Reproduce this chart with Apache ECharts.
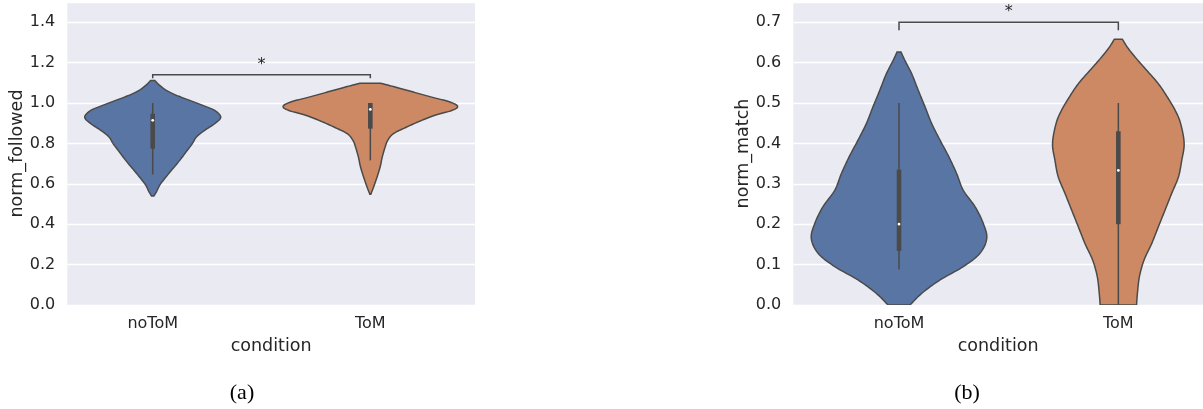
<!DOCTYPE html>
<html>
<head>
<meta charset="utf-8">
<script src="https://cdn.jsdelivr.net/npm/echarts@6/dist/echarts.min.js"></script>
<style>
  html, body { margin: 0; padding: 0; background: #ffffff; }
  #chart { width: 1203px; height: 409px; }
</style>
</head>
<body>
<div id="chart"></div>
<script>
// ---- data ----
const categories = ['noToM', 'ToM'];

// violin outlines: [value, half-width in category units], top to bottom
const followedNoToMProfile = [
  [1.112, 0.009], [1.087, 0.032], [1.062, 0.063], [1.038, 0.109], [1.013, 0.170],
  [0.988, 0.230], [0.963, 0.285], [0.930, 0.3125], [0.898, 0.285], [0.865, 0.239],
  [0.832, 0.201], [0.799, 0.182], [0.766, 0.159], [0.716, 0.124], [0.667, 0.086],
  [0.626, 0.055], [0.593, 0.032], [0.560, 0.017], [0.539, 0.005]
];
const followedToMProfile = [
  [1.098, 0.048], [1.079, 0.114], [1.054, 0.198], [1.029, 0.282], [1.005, 0.366],
  [0.983, 0.401], [0.963, 0.374], [0.939, 0.297], [0.914, 0.236], [0.881, 0.167],
  [0.848, 0.106], [0.815, 0.080], [0.782, 0.068], [0.733, 0.055], [0.683, 0.045],
  [0.634, 0.031], [0.584, 0.015], [0.548, 0.002]
];
const matchNoToMProfile = [
  [0.626, 0.009], [0.605, 0.027], [0.572, 0.058], [0.531, 0.088], [0.490, 0.119],
  [0.449, 0.149], [0.408, 0.187], [0.366, 0.228], [0.325, 0.263], [0.284, 0.293],
  [0.243, 0.347], [0.202, 0.384], [0.165, 0.400], [0.128, 0.369], [0.095, 0.293],
  [0.062, 0.187], [0.029, 0.104], [0.000, 0.050]
];
const matchToMProfile = [
  [0.658, 0.018], [0.638, 0.041], [0.614, 0.076], [0.581, 0.129], [0.548, 0.182],
  [0.515, 0.223], [0.482, 0.259], [0.449, 0.284], [0.400, 0.300], [0.358, 0.289],
  [0.317, 0.274], [0.276, 0.243], [0.235, 0.213], [0.193, 0.182], [0.152, 0.152],
  [0.111, 0.117], [0.070, 0.096], [0.029, 0.087], [0.000, 0.083]
];

// inner box: [whisker low, q1, median, q3, whisker high]
const followedBoxStats = [
  [0.646, 0.774, 0.914, 0.947, 1.000],
  [0.716, 0.873, 0.968, 1.000, 1.000]
];
const matchBoxStats = [
  [0.088, 0.134, 0.200, 0.335, 0.500],
  [0.000, 0.200, 0.333, 0.430, 0.500]
];

// significance brackets: [x from, x to, bar height, tick end]
const followedBracket = [0, 1, 1.14, 1.123];
const matchBracket = [0, 1, 0.70, 0.68];
const significanceLabel = '*';

// ---- styling ----
const FILLS = ['#5975a4', '#cc8963'];
const EDGE = '#4a4a4a';
const TEXT = '#262626';
const FONT = 'DejaVu Sans';

// Catmull-Rom curve through pixel points, sampled densely
function smoothSide(pts) {
  const out = [];
  const n = pts.length;
  for (let i = 0; i < n - 1; i++) {
    const p0 = pts[Math.max(i - 1, 0)], p1 = pts[i], p2 = pts[i + 1], p3 = pts[Math.min(i + 2, n - 1)];
    const steps = 10;
    for (let s = 0; s < steps; s++) {
      const t = s / steps, t2 = t * t, t3 = t2 * t;
      const f = k => 0.5 * ((2 * p1[k]) + (-p0[k] + p2[k]) * t +
        (2 * p0[k] - 5 * p1[k] + 4 * p2[k] - p3[k]) * t2 +
        (-p0[k] + 3 * p1[k] - 3 * p2[k] + p3[k]) * t3);
      out.push([f(0), f(1)]);
    }
  }
  out.push(pts[n - 1]);
  return out;
}

function violinRenderer(profiles, boxes) {
  return function (params, api) {
    const c = api.value(0);
    const prof = profiles[c];
    const right = smoothSide(prof.map(([v, w]) => api.coord([c + w, v])));
    const left = smoothSide(prof.map(([v, w]) => api.coord([c - w, v]))).reverse();
    const b = boxes[c];
    const cx = api.coord([c, 0])[0];
    const py = v => api.coord([c, v])[1];
    return {
      type: 'group',
      children: [
        {
          type: 'polygon',
          shape: { points: right.concat(left) },
          style: { fill: FILLS[c], stroke: EDGE, lineWidth: 1.5 }
        },
        {
          type: 'line',
          shape: { x1: cx, y1: py(b[0]), x2: cx, y2: py(b[4]) },
          style: { stroke: EDGE, lineWidth: 1.5 }
        },
        {
          type: 'line',
          shape: { x1: cx, y1: py(b[1]), x2: cx, y2: py(b[3]) },
          style: { stroke: EDGE, lineWidth: 4.6, lineCap: 'butt' }
        },
        {
          type: 'circle',
          shape: { cx: cx, cy: py(b[2]), r: 1.4 },
          style: { fill: '#ffffff' }
        }
      ]
    };
  };
}

function bracketRenderer(br) {
  return function (params, api) {
    const a = api.coord([br[0], br[2]]);
    const b = api.coord([br[1], br[2]]);
    const aEnd = api.coord([br[0], br[3]]);
    const bEnd = api.coord([br[1], br[3]]);
    const mid = api.coord([(br[0] + br[1]) / 2, br[2]]);
    return {
      type: 'group',
      children: [
        {
          type: 'polyline',
          shape: { points: [aEnd, a, b, bEnd] },
          style: { stroke: EDGE, lineWidth: 1.5, fill: null }
        },
        {
          type: 'text',
          x: mid[0],
          y: mid[1] - 10,
          style: {
            text: significanceLabel, fill: TEXT, fontSize: 16, fontFamily: FONT,
            align: 'center', verticalAlign: 'middle',
            textAlign: 'center', textVerticalAlign: 'middle'
          }
        }
      ]
    };
  };
}

function xAxisFor(gridIndex, min, max) {
  return {
    type: 'value', gridIndex, min, max,
    name: 'condition', nameLocation: 'middle', nameGap: 32,
    nameTextStyle: { fontSize: 17.5, color: TEXT, fontFamily: FONT },
    axisLine: { show: false }, axisTick: { show: false }, splitLine: { show: false },
    axisLabel: {
      customValues: [0, 1], margin: 11,
      formatter: v => categories[Math.round(v)],
      fontSize: 16, color: TEXT, fontFamily: FONT
    }
  };
}

function yAxisFor(gridIndex, name, max, interval) {
  return {
    type: 'value', gridIndex, min: 0, max, interval,
    name, nameLocation: 'middle', nameGap: 41,
    nameTextStyle: { fontSize: 17.5, color: TEXT, fontFamily: FONT },
    axisLine: { show: false }, axisTick: { show: false },
    splitLine: { show: true, lineStyle: { color: '#ffffff', width: 1.3 } },
    axisLabel: {
      margin: 12, showMaxLabel: false,
      formatter: v => v.toFixed(1),
      fontSize: 16, color: TEXT, fontFamily: FONT
    }
  };
}

const chart = echarts.init(document.getElementById('chart'), null, { renderer: 'canvas' });

chart.setOption({
  animation: false,
  backgroundColor: '#ffffff',
  grid: [
    { left: 67.3, top: 2, width: 407.7, height: 303, show: true, backgroundColor: '#eaeaf2', borderWidth: 0 },
    { left: 793.3, top: 2, width: 409.7, height: 303, show: true, backgroundColor: '#eaeaf2', borderWidth: 0 }
  ],
  xAxis: [
    xAxisFor(0, -0.3925, 1.481),
    xAxisFor(1, -0.482, 1.386)
  ],
  yAxis: [
    yAxisFor(0, 'norm_followed', 1.5, 0.2),
    yAxisFor(1, 'norm_match', 0.75, 0.1)
  ],
  series: [
    {
      type: 'custom', xAxisIndex: 0, yAxisIndex: 0, clip: true,
      data: [[0], [1]],
      renderItem: violinRenderer([followedNoToMProfile, followedToMProfile], followedBoxStats)
    },
    {
      type: 'custom', xAxisIndex: 1, yAxisIndex: 1, clip: true,
      data: [[0], [1]],
      renderItem: violinRenderer([matchNoToMProfile, matchToMProfile], matchBoxStats)
    },
    {
      type: 'custom', xAxisIndex: 0, yAxisIndex: 0,
      data: [[0]],
      renderItem: bracketRenderer(followedBracket)
    },
    {
      type: 'custom', xAxisIndex: 1, yAxisIndex: 1,
      data: [[0]],
      renderItem: bracketRenderer(matchBracket)
    }
  ],
  graphic: [
    {
      type: 'text', x: 242, y: 393,
      style: { text: '(a)', fill: '#000000', fontSize: 22, fontFamily: 'Liberation Serif', align: 'center', verticalAlign: 'middle' }
    },
    {
      type: 'text', x: 967, y: 393,
      style: { text: '(b)', fill: '#000000', fontSize: 22, fontFamily: 'Liberation Serif', align: 'center', verticalAlign: 'middle' }
    }
  ]
});
</script>
</body>
</html>
